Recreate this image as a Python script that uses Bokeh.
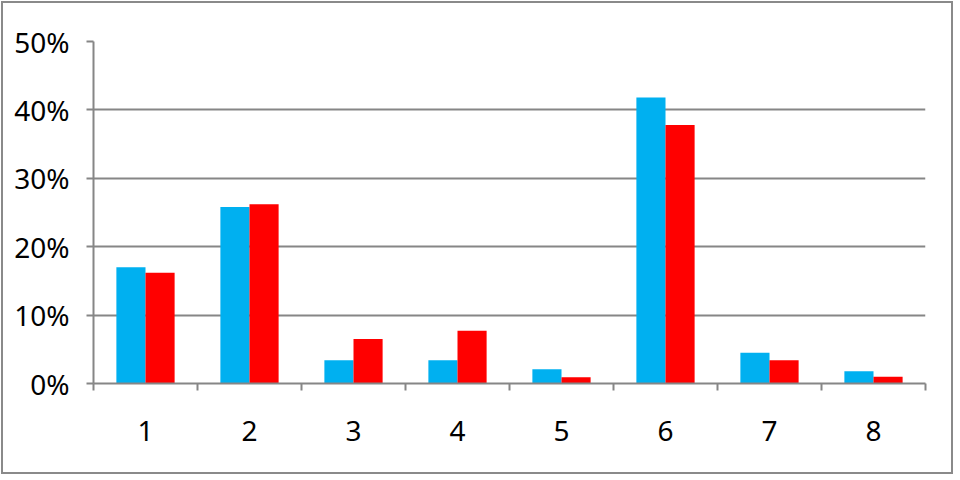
from bokeh.plotting import figure
from bokeh.models import (Range1d, FixedTicker, NumeralTickFormatter, LinearAxis,
                          ColumnDataSource)
from bokeh.transform import dodge
from bokeh.embed import file_html
from bokeh.resources import INLINE

categories = [1, 2, 3, 4, 5, 6, 7, 8]
series_blue = [0.170, 0.258, 0.034, 0.034, 0.021, 0.418, 0.045, 0.018]
series_red = [0.162, 0.262, 0.065, 0.077, 0.009, 0.378, 0.034, 0.010]
y_ticks = [0.0, 0.1, 0.2, 0.3, 0.4, 0.5]
x_labels = ["1", "2", "3", "4", "5", "6", "7", "8"]

GRAY = "#868686"
FONT = "Noto Sans"
FSIZE = "28px"

source = ColumnDataSource(dict(x=categories, blue=series_blue, red=series_red))

p = figure(width=952, height=473, output_backend="svg", toolbar_location=None,
           x_range=Range1d(min(categories) - 0.5, max(categories) + 0.5),
           y_range=Range1d(y_ticks[0], y_ticks[-1]),
           x_axis_location=None, y_axis_location="left",
           min_border_left=90, min_border_right=30, min_border_top=38,
           min_border_bottom=93)
p.styles = {"border": "2px solid #8a8a8a", "margin": "1px"}
p.outline_line_color = None
p.background_fill_color = "white"
p.border_fill_color = "white"

bw = 0.28
p.vbar(x=dodge("x", -bw / 2, range=p.x_range), top="blue", width=bw, bottom=0,
       source=source, fill_color="#00B0F0", line_color=None)
p.vbar(x=dodge("x", bw / 2, range=p.x_range), top="red", width=bw, bottom=0,
       source=source, fill_color="#FF0000", line_color=None)

# y axis
ya = p.yaxis[0]
ya.ticker = FixedTicker(ticks=y_ticks)
ya.formatter = NumeralTickFormatter(format="0%")
ya.axis_line_color = GRAY
ya.axis_line_width = 2
ya.major_tick_line_color = GRAY
ya.major_tick_line_width = 2
ya.major_tick_in = 0
ya.major_tick_out = 7
ya.minor_tick_line_color = None
ya.major_label_standoff = 17
ya.major_label_text_font = FONT
ya.major_label_text_font_size = FSIZE
ya.major_label_text_color = "black"

p.ygrid.ticker = FixedTicker(ticks=y_ticks)
p.ygrid.grid_line_color = GRAY
p.ygrid.grid_line_width = 2
p.xgrid.grid_line_color = None

# x axis: labels at category centres, ticks at category boundaries
boundaries = [c - 0.5 for c in categories] + [categories[-1] + 0.5]
xa = LinearAxis(ticker=FixedTicker(ticks=categories, minor_ticks=boundaries),
                major_label_overrides={c: s for c, s in zip(categories, x_labels)})
xa.axis_line_color = GRAY
xa.axis_line_width = 2
xa.major_tick_line_color = None
xa.major_tick_in = 0
xa.major_tick_out = 0
xa.minor_tick_line_color = GRAY
xa.minor_tick_line_width = 2
xa.minor_tick_in = 0
xa.minor_tick_out = 7
xa.major_label_standoff = 30
xa.major_label_text_font = FONT
xa.major_label_text_font_size = FSIZE
xa.major_label_text_color = "black"
p.add_layout(xa, "below")

open("out.html", "w").write(file_html(p, INLINE))
